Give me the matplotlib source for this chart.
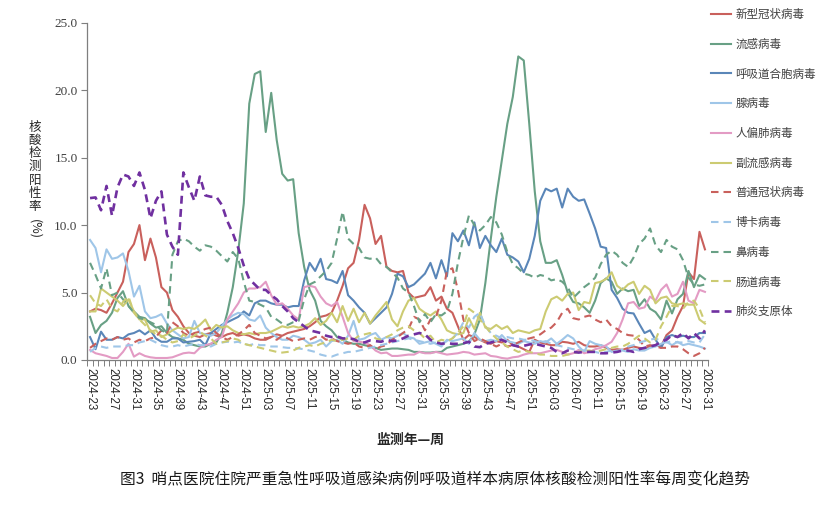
import numpy as np
import matplotlib
matplotlib.use("Agg")
import matplotlib.pyplot as plt

plt.rcParams['font.family'] = ['Noto Sans CJK SC', 'DejaVu Sans']

# ---------------- data ----------------
def week_labels():
    labs = []
    for w in range(23, 53):
        labs.append(f"2024-{w:02d}")
    for w in range(1, 53):
        labs.append(f"2025-{w:02d}")
    for w in range(1, 32):
        labs.append(f"2026-{w:02d}")
    return labs

weeks = week_labels()

series_names = ["新型冠状病毒", "流感病毒", "呼吸道合胞病毒", "腺病毒", "人偏肺病毒",
                "副流感病毒", "普通冠状病毒", "博卡病毒", "鼻病毒", "肠道病毒", "肺炎支原体"]

sars_cov2 = [3.6,3.8,3.7,3.5,4.2,5.0,5.8,8.0,8.6,10.0,
             7.4,9.0,7.6,5.4,5.0,3.7,3.2,2.5,2.0,1.8,
             1.7,1.9,2.0,1.8,1.7,1.9,2.0,1.8,1.9,1.8,
             1.6,1.5,1.5,1.7,1.9,1.8,2.0,2.1,2.2,2.3,
             2.5,2.8,3.2,3.3,3.5,4.4,5.5,6.8,7.2,8.9,
             11.5,10.5,8.6,9.2,6.9,6.6,6.5,6.6,5.0,4.6,
             4.7,4.8,5.4,4.4,4.7,3.8,3.5,2.5,1.5,1.85,
             1.7,1.5,1.3,1.2,1.4,1.3,1.5,1.1,1.0,0.8,
             0.6,1.5,1.3,1.2,1.1,1.1,1.35,1.3,1.2,1.35,
             1.1,1.0,1.0,1.1,0.9,0.75,0.8,0.75,0.9,1.0,
             0.9,0.85,1.0,1.1,1.0,1.85,2.2,3.2,4.0,6.5,
             6.0,9.5,8.2]

influenza = [3.2,2.0,2.6,2.9,3.5,4.6,5.1,4.0,3.6,3.2,
             3.1,2.7,2.4,2.5,2.0,1.7,1.6,1.5,1.2,1.1,
             1.0,1.0,1.2,1.3,2.0,3.5,5.4,8.1,11.6,19.0,
             21.2,21.4,16.9,19.8,16.3,13.8,13.3,13.4,9.4,6.9,
             5.2,4.4,2.9,2.5,2.2,1.7,1.5,1.3,1.2,1.2,
             1.1,1.0,0.9,0.75,0.8,0.85,0.85,0.8,0.75,0.6,
             0.6,0.55,0.55,0.6,0.6,0.9,1.0,1.1,1.2,1.35,
             1.9,3.0,5.7,9.0,12.1,14.8,17.5,19.5,22.5,22.2,
             17.5,12.5,8.8,7.2,7.2,7.4,6.3,5.0,4.3,4.2,
             3.9,3.5,4.4,5.7,6.05,5.8,4.9,5.3,5.1,5.2,
             4.0,4.5,3.8,3.55,3.0,4.4,3.45,4.5,4.9,6.6,
             5.4,6.3,6.0]

rsv = [1.7,0.8,2.1,1.5,1.5,1.7,1.6,1.9,2.0,2.2,
       1.9,2.2,1.6,1.35,1.35,1.6,1.6,1.3,1.35,1.4,
       1.5,1.1,2.0,2.3,2.6,2.8,3.0,3.2,3.6,3.3,
       4.2,4.4,4.4,4.2,4.1,4.1,3.9,4.0,4.0,5.9,
       7.2,6.6,7.5,6.0,5.9,5.7,6.6,4.8,4.4,3.9,
       3.5,2.7,3.1,3.5,3.9,4.9,6.4,6.2,5.4,5.6,
       6.0,6.4,7.2,6.05,7.4,6.2,9.4,8.8,9.6,8.5,
       10.2,8.3,9.2,8.5,8.0,9.0,7.8,7.6,7.3,6.5,
       7.5,9.2,11.8,12.7,12.5,12.7,11.3,12.7,12.1,11.8,
       11.9,10.85,9.75,8.4,8.3,5.2,4.6,3.8,3.5,3.45,
       2.7,2.0,2.2,1.5,0.9,1.7,1.85,1.7,1.8,1.7,
       1.7,2.0,2.0]

adenovirus = [8.9,8.3,6.5,8.2,7.5,7.6,7.9,6.6,4.7,5.5,
              3.6,3.1,3.2,3.4,2.7,2.2,1.9,1.6,1.7,2.9,
              2.0,1.9,1.8,2.0,2.5,3.0,3.3,3.5,3.4,3.0,
              2.9,3.3,2.4,2.0,1.7,1.5,1.5,1.8,1.7,1.5,
              1.2,1.3,1.5,1.0,1.4,1.5,1.2,1.8,2.9,1.5,
              1.6,1.85,2.0,1.5,1.7,1.6,1.8,2.0,1.7,1.6,
              1.2,1.3,1.4,1.2,1.0,1.5,1.4,1.5,1.6,1.2,
              2.0,1.5,1.4,1.5,1.4,1.85,1.4,1.3,1.2,1.4,
              1.3,1.2,1.4,1.3,1.6,1.2,1.5,1.85,1.6,1.0,
              0.6,1.4,1.2,1.1,1.0,0.6,0.7,0.7,0.6,0.8,
              0.7,0.7,0.9,1.0,1.2,1.35,1.1,1.35,1.1,1.2,
              1.1,1.0,0.85]

hmpv = [0.75,0.5,0.4,0.3,0.15,0.15,0.6,1.2,0.25,0.5,
        0.3,0.2,0.15,0.15,0.15,0.2,0.35,0.5,0.55,0.5,
        0.9,1.1,1.2,1.5,1.7,3.0,3.6,4.2,5.0,5.3,
        5.3,5.4,5.8,4.8,4.1,4.2,3.8,3.3,3.0,5.4,
        5.5,5.4,4.7,4.2,4.0,4.3,3.2,2.0,1.4,1.35,
        1.3,1.1,0.7,0.5,0.55,0.3,0.3,0.35,0.4,0.4,
        0.6,0.5,0.5,0.6,0.5,0.4,0.45,0.5,0.6,0.55,
        0.4,0.45,0.5,0.3,0.25,0.15,0.1,0.2,0.25,0.4,
        0.5,0.5,0.5,0.6,0.7,0.75,0.6,0.4,0.5,0.75,
        0.5,0.6,0.8,0.9,1.1,1.35,2.0,3.0,4.2,4.3,
        3.8,3.9,4.7,4.4,5.2,5.6,4.7,4.9,5.8,4.4,
        4.2,5.2,5.05]

parainfluenza = [3.6,3.6,5.3,5.0,4.7,4.4,4.0,4.5,3.6,3.0,
                 3.0,2.1,2.2,1.7,1.9,2.2,2.4,2.3,2.4,2.3,
                 2.6,3.0,2.2,2.6,2.4,2.5,2.2,2.0,1.9,2.0,
                 1.9,2.0,2.0,2.1,2.3,2.5,2.4,2.5,2.4,2.5,
                 2.7,3.1,2.6,2.9,3.5,2.8,4.0,2.9,3.8,2.8,
                 3.5,2.7,3.3,3.8,4.3,3.0,2.5,3.6,4.4,4.6,
                 3.8,3.5,3.3,3.6,3.0,2.2,2.0,1.9,2.0,3.1,
                 2.3,3.5,2.4,2.3,2.6,2.3,2.5,2.0,2.2,2.1,
                 2.0,2.2,2.3,3.6,4.5,4.7,4.4,4.9,5.0,3.7,
                 4.3,4.2,5.7,5.8,6.0,6.5,5.5,5.2,5.6,5.8,
                 4.9,5.5,5.2,4.2,4.6,4.7,4.2,4.1,4.2,4.1,
                 4.1,3.0,2.7]

common_cov = [0.9,1.2,1.4,1.6,1.5,1.7,1.5,1.6,1.3,1.5,
              1.4,1.6,1.7,2.2,2.0,2.8,2.5,2.0,1.8,2.0,
              2.1,2.3,2.4,2.0,1.7,1.5,1.7,1.9,2.2,2.6,
              2.0,1.8,1.6,1.7,1.5,1.8,1.6,1.4,1.5,1.6,
              1.5,1.7,1.8,1.5,1.6,1.4,1.3,1.2,1.3,1.0,
              0.9,1.1,0.8,1.0,1.1,1.5,1.7,2.0,2.3,3.2,
              3.0,2.2,3.0,3.2,4.4,6.6,6.8,5.2,3.0,2.0,
              1.4,1.6,1.4,1.2,1.0,1.2,1.0,1.1,1.3,1.5,
              1.6,1.7,1.9,2.2,2.4,2.8,3.5,3.8,3.1,3.0,
              3.2,3.3,3.0,2.8,3.0,2.5,2.3,2.0,1.85,1.8,
              1.5,1.0,1.1,1.0,0.9,0.9,1.0,1.0,0.8,0.5,
              0.3,0.5,0.9]

bocavirus = [0.6,0.9,1.0,0.9,1.0,1.0,1.0,1.1,1.1,1.3,
             1.4,1.5,1.3,1.1,1.0,1.0,1.1,1.0,1.1,1.2,
             1.1,1.1,1.0,1.2,1.3,1.35,1.3,1.35,1.2,1.1,
             1.2,1.1,1.1,1.0,1.0,0.95,0.9,0.9,0.85,0.8,
             0.7,0.6,0.4,0.3,0.25,0.4,0.5,0.6,0.6,0.7,
             0.8,0.9,1.0,1.1,1.2,1.3,1.4,1.5,1.6,1.5,
             1.4,1.3,1.2,1.3,1.2,1.4,1.6,2.0,2.8,2.4,
             3.2,3.5,2.5,2.0,1.8,1.6,1.7,1.6,1.6,1.5,
             1.5,1.4,1.3,1.4,1.2,1.1,1.0,0.9,0.8,0.8,
             0.7,0.7,0.6,0.5,0.6,0.7,0.6,0.8,1.0,1.1,
             1.3,1.4,1.5,1.6,1.4,1.3,1.4,1.3,1.3,1.4,
             1.3,1.3,1.9]

rhinovirus = [7.2,6.3,5.3,6.8,4.8,5.0,4.5,4.0,3.5,3.1,
              3.0,2.8,2.6,2.2,2.0,7.8,8.8,9.0,8.8,8.4,
              8.1,8.5,8.4,8.1,7.7,7.3,8.0,7.5,5.8,4.4,
              4.3,4.1,3.9,3.2,3.0,2.7,2.6,2.8,2.9,4.5,
              5.6,5.8,6.2,6.6,7.2,9.0,11.0,9.0,8.6,8.3,
              7.6,7.5,7.6,7.1,6.9,6.5,6.1,5.3,5.0,4.0,
              2.8,3.4,2.8,3.4,3.3,3.6,4.9,7.2,9.1,10.7,
              10.0,9.6,10.0,10.6,10.2,9.3,8.0,7.1,6.8,6.4,
              6.3,6.1,6.3,6.2,5.9,6.0,5.8,5.4,4.6,5.0,
              5.4,5.7,6.1,7.1,7.8,8.1,7.8,7.2,6.9,7.6,
              8.6,9.0,9.75,8.5,8.0,8.9,8.4,8.2,7.4,6.1,
              5.6,5.5,5.6]

enterovirus = [4.8,4.2,4.0,4.5,3.8,3.6,4.3,4.7,3.5,3.0,
               2.6,2.2,1.9,1.8,1.5,1.3,1.4,1.9,1.6,1.8,
               2.1,1.8,1.6,1.2,1.3,1.4,1.6,1.5,1.2,1.1,
               1.0,0.9,0.8,0.7,0.6,0.55,0.6,0.7,0.9,1.0,
               1.1,1.0,1.2,1.3,1.5,1.4,1.5,1.6,1.5,1.8,
               1.9,2.0,1.6,1.5,1.7,1.9,2.2,2.4,2.5,2.2,
               2.0,1.6,1.8,1.3,1.5,1.4,1.6,2.0,2.5,3.8,
               3.5,3.0,2.5,2.0,1.6,1.3,1.0,0.8,0.6,0.7,
               0.6,0.5,0.4,0.4,0.3,0.3,0.3,0.4,0.5,0.6,
               0.7,0.7,0.6,0.7,0.8,0.9,1.0,1.0,1.2,1.5,
               1.8,1.6,1.3,1.5,2.5,3.2,4.0,4.0,3.8,4.3,
               4.4,3.8,2.8]

mycoplasma = [12.0,12.05,11.1,12.9,10.7,12.8,13.75,13.6,12.9,13.9,
              12.6,10.5,11.8,12.5,9.3,8.4,7.8,13.9,12.8,11.8,
              13.6,12.2,12.1,12.1,11.5,10.3,9.4,8.3,7.0,6.0,
              5.6,5.2,5.2,4.8,4.5,4.0,3.6,3.1,2.8,2.5,
              2.2,2.1,2.0,1.8,1.7,1.75,1.6,1.6,1.55,1.35,
              1.3,1.45,1.4,1.35,1.5,1.4,1.45,1.6,1.8,1.9,
              2.0,1.9,1.5,1.3,1.2,1.25,1.2,1.2,1.25,1.35,
              1.0,0.95,1.2,1.3,1.4,1.5,1.3,1.1,1.0,1.05,
              1.15,1.2,1.1,1.0,0.9,0.6,0.5,0.7,0.6,0.55,
              0.6,0.6,0.6,0.5,0.5,0.55,0.6,0.7,0.7,0.6,
              0.8,0.9,1.0,1.1,1.35,1.5,1.85,1.7,2.0,1.6,
              2.0,1.6,2.2]

y_ticks = [0, 5, 10, 15, 20, 25]

# ---------------- styles ----------------
RED = '#c9605c'
GREEN = '#68a085'
BLUE = '#5a86b8'
LBLUE = '#9fc6e8'
PINK = '#e39bc4'
OLIVE = '#cccb72'
PURPLE = '#7030a0'

all_series = [sars_cov2, influenza, rsv, adenovirus, hmpv, parainfluenza,
              common_cov, bocavirus, rhinovirus, enterovirus, mycoplasma]
styles = [
    dict(color=RED, ls='-', lw=1.5),
    dict(color=GREEN, ls='-', lw=1.5),
    dict(color=BLUE, ls='-', lw=1.5),
    dict(color=LBLUE, ls='-', lw=1.5),
    dict(color=PINK, ls='-', lw=1.5),
    dict(color=OLIVE, ls='-', lw=1.5),
    dict(color=RED, ls=(0, (3.6, 2.4)), lw=1.5),
    dict(color=LBLUE, ls=(0, (3.6, 2.4)), lw=1.5),
    dict(color=GREEN, ls=(0, (3.6, 2.4)), lw=1.5),
    dict(color=OLIVE, ls=(0, (3.6, 2.4)), lw=1.5),
    dict(color=PURPLE, ls=(0, (3.0, 2.0)), lw=1.9),
]

fig = plt.figure(figsize=(8.4, 5.19), dpi=100)
ax = fig.add_axes([87.3 / 840, 1 - 360 / 519, 620.4 / 840, (360 - 22.7) / 519])

x = np.arange(len(weeks))
for name, vals, st in zip(series_names, all_series, styles):
    ax.plot(x, vals, label=name, solid_joinstyle='round', **st)

ax.set_xlim(-0.5, len(weeks) - 0.5)
ax.set_ylim(0, 25)

# y axis
ax.set_yticks(y_ticks)
ax.set_yticklabels([f"{v:.1f}" for v in y_ticks], family='Liberation Serif',
                   fontsize=9.5, color='#404040')
ax.tick_params(axis='y', direction='out', length=4, width=0.8, color='#7f7f7f', pad=3)

# x axis: tick marks between categories, labels every 4 weeks
ax.set_xticks(np.arange(-0.5, len(weeks), 1.0))
ax.set_xticklabels([])
ax.tick_params(axis='x', which='major', direction='out', length=4, width=0.7, color='#7f7f7f')
lab_idx = np.arange(0, len(weeks), 4)
ax.set_xticks(lab_idx, minor=True)
ax.set_xticklabels([weeks[i] for i in lab_idx], minor=True, rotation=270,
                   family='Liberation Sans', fontsize=8.3, color='#262626')
ax.tick_params(axis='x', which='minor', length=0, pad=6)

for s in ['top', 'right']:
    ax.spines[s].set_visible(False)
for s in ['left', 'bottom']:
    ax.spines[s].set_color('#7f7f7f')
    ax.spines[s].set_linewidth(0.9)

# y-axis title: stacked characters
ychars = list("核酸检测阳性率")
for k, ch in enumerate(ychars):
    fig.text(35 / 840, 1 - (127 + 13.3 * k) / 519, ch, ha='center', va='center',
             fontsize=9, color='#262626')
fig.text(35 / 840, 1 - 229 / 519, "(%)", ha='center', va='center', rotation=270,
         fontsize=9, color='#262626')

# x-axis title
fig.text(410 / 840, 1 - 440 / 519, "监测年—周", ha='center', va='center',
         fontsize=10, fontweight='bold', color='#262626')

# figure caption
fig.text(435 / 840, 1 - 480 / 519,
         "图3  哨点医院住院严重急性呼吸道感染病例呼吸道样本病原体核酸检测阳性率每周变化趋势",
         ha='center', va='center', fontsize=11.3, color='#1a1a1a')

leg = ax.legend(loc='upper left', bbox_to_anchor=(711 / 840, 1 - 8 / 519),
                bbox_transform=fig.transFigure, frameon=False, fontsize=8.3,
                handlelength=1.75, handletextpad=0.35, labelspacing=1.45,
                borderpad=0, borderaxespad=0)
for t in leg.get_texts():
    t.set_color('#404040')

fig.savefig("out.png", dpi=100)
